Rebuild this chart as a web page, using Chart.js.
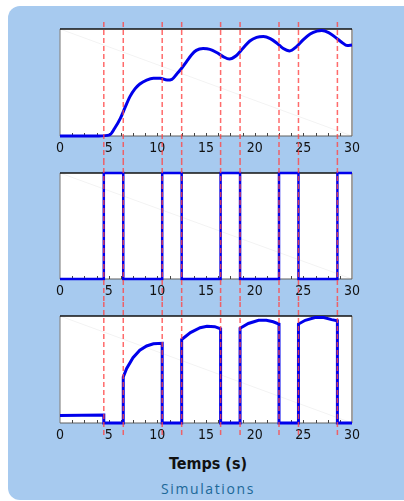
<!DOCTYPE html>
<html>
<head>
<meta charset="utf-8">
<script src="https://cdn.jsdelivr.net/npm/chart.js@4.4.1/dist/chart.umd.min.js"></script>
<style>
html, body { margin: 0; padding: 0; background: #fff; }
body { width: 404px; height: 501px; position: relative; overflow: hidden; }
#panel { position: absolute; left: 8px; top: 6px; width: 420px; height: 494px; background: #a7caef; border-radius: 12px; }
canvas { position: absolute; left: 0; }
#c1 { top: 20px; }
#c2 { top: 160px; }
#c3 { top: 302px; }
.lbl { position: absolute; left: 0; width: 416px; text-align: center; }
#xtitle { top: 454px; font: bold 16px "DejaVu Sans Condensed", "Liberation Sans Narrow", sans-serif; font-stretch: condensed; color: #111; }
#sub { top: 479px; font: 500 14px "Open Sans", sans-serif; letter-spacing: 1.6px; color: #1c6898; }
</style>
</head>
<body>
<div id="panel"></div>
<canvas id="c1" width="404" height="140"></canvas>
<canvas id="c2" width="404" height="142"></canvas>
<canvas id="c3" width="404" height="146"></canvas>
<div class="lbl" id="xtitle">Temps (s)</div>
<div class="lbl" id="sub">Simulations</div>
<script>
// switching instants (red dashed lines)
const switchTimes = [4.5, 6.5, 10.5, 12.5, 16.5, 18.5, 22.5, 24.5, 28.5];
const xTicks = [0, 5, 10, 15, 20, 25, 30];

// top plot: smooth response
const respT = [0, 2, 4, 5.1, 5.6, 6.2, 6.7, 7.2, 7.7, 8.2, 8.9, 9.6, 10.3, 11.0, 11.5, 12.0, 12.5, 13.0, 13.5, 14.0, 14.7, 15.4, 16.1, 16.8, 17.4, 18.1, 18.8, 19.5, 20.2, 20.9, 21.6, 22.3, 22.9, 23.6, 24.3, 25.0, 25.7, 26.4, 26.9, 27.6, 28.3, 29.0, 29.5, 30];
const respV = [0, 0, 0, 0.01, 0.07, 0.165, 0.27, 0.37, 0.44, 0.486, 0.523, 0.54, 0.54, 0.523, 0.53, 0.58, 0.633, 0.695, 0.757, 0.80, 0.817, 0.81, 0.78, 0.74, 0.72, 0.75, 0.82, 0.888, 0.922, 0.93, 0.91, 0.866, 0.82, 0.795, 0.835, 0.90, 0.953, 0.98, 0.985, 0.966, 0.922, 0.872, 0.845, 0.85];

// middle plot: on/off command
const cmdT = [0, 4.5, 4.5, 6.5, 6.5, 10.5, 10.5, 12.5, 12.5, 16.5, 16.5, 18.5, 18.5, 22.5, 22.5, 24.5, 24.5, 28.5, 28.5, 30];
const cmdV = [0, 0, 1, 1, 0, 0, 1, 1, 0, 0, 1, 1, 0, 0, 1, 1, 0, 0, 1, 1];

// bottom plot: gated signal
const gateT = [0, 4.5, 4.5, 6.5, 6.5, 6.85, 7.5, 8.2, 8.9, 9.6, 10.5, 10.5, 12.5, 12.5, 13.4, 14.4, 15.1, 15.9, 16.5, 16.5, 18.5, 18.5, 19.35, 20.4, 21.2, 21.9, 22.5, 22.5, 24.5, 24.5, 25.2, 26.2, 27.1, 27.9, 28.5, 28.5, 30];
const gateV = [0.07, 0.075, 0, 0, 0.43, 0.51, 0.61, 0.68, 0.72, 0.74, 0.745, 0, 0, 0.78, 0.845, 0.89, 0.905, 0.9, 0.88, 0, 0, 0.885, 0.93, 0.96, 0.96, 0.946, 0.925, 0, 0, 0.925, 0.96, 0.985, 0.985, 0.966, 0.955, 0, 0];

function pts(ts, vs) { return ts.map((t, i) => ({ x: t, y: vs[i] })); }

function framePlugin(lineTop, lineBottom) {
    return {
        id: 'frame',
        beforeDatasetsDraw(chart) {
            const { ctx, chartArea: a } = chart;
            ctx.save();
            ctx.fillStyle = '#fff';
            ctx.fillRect(a.left, a.top, a.right - a.left, a.bottom - a.top);
            // faint diagonal artefact
            ctx.strokeStyle = 'rgba(0,0,0,0.05)';
            ctx.lineWidth = 1;
            ctx.beginPath();
            ctx.moveTo(a.left, a.top);
            ctx.lineTo(a.right, a.bottom);
            ctx.stroke();
            // borders
            ctx.lineWidth = 2;
            ctx.strokeStyle = '#a0a0a0';
            ctx.beginPath();
            ctx.moveTo(a.right, a.top);
            ctx.lineTo(a.right, a.bottom);
            ctx.stroke();
            ctx.lineWidth = 1.2;
            ctx.strokeStyle = '#8a8a8a';
            ctx.beginPath();
            ctx.moveTo(a.left, a.top);
            ctx.lineTo(a.left, a.bottom);
            ctx.stroke();
            ctx.strokeStyle = '#606060';
            ctx.beginPath();
            ctx.moveTo(a.left, a.bottom);
            ctx.lineTo(a.right, a.bottom);
            ctx.stroke();
            ctx.lineWidth = 1.6;
            ctx.strokeStyle = '#111';
            ctx.beginPath();
            ctx.moveTo(a.left, a.top);
            ctx.lineTo(a.right, a.top);
            ctx.stroke();
            // minor ticks pointing inward
            const xs = chart.scales.x;
            ctx.lineWidth = 1;
            ctx.strokeStyle = '#444';
            xs.ticks.forEach(t => {
                if (t.value <= 0 || t.value >= 30) return;
                const px = Math.round(xs.getPixelForValue(t.value)) + 0.5;
                ctx.beginPath();
                ctx.moveTo(px, a.bottom);
                ctx.lineTo(px, a.bottom - 3);
                ctx.stroke();
            });
            ctx.restore();
        },
        afterDraw(chart) {
            const { ctx } = chart;
            const xs = chart.scales.x;
            ctx.save();
            ctx.strokeStyle = 'rgba(255,70,70,0.8)';
            ctx.lineWidth = 1.5;
            ctx.setLineDash([5, 3]);
            switchTimes.forEach(t => {
                const px = xs.getPixelForValue(t);
                ctx.beginPath();
                ctx.moveTo(px, lineTop);
                ctx.lineTo(px, lineBottom);
                ctx.stroke();
            });
            ctx.restore();
        }
    };
}

function makeChart(id, data, opts) {
    return new Chart(document.getElementById(id), {
        type: 'line',
        data: {
            datasets: [{
                data: data,
                borderColor: 'rgb(0,0,235)',
                borderWidth: opts.width,
                pointRadius: 0,
                fill: false,
                clip: false,
                cubicInterpolationMode: opts.smooth ? 'monotone' : 'default',
                tension: 0
            }]
        },
        options: {
            responsive: false,
            animation: false,
            events: [],
            layout: { padding: { left: 60, right: 52, top: opts.top, bottom: 0 } },
            plugins: { legend: { display: false }, tooltip: { enabled: false } },
            scales: {
                x: {
                    type: 'linear',
                    min: 0,
                    max: 30,
                    afterFit: s => { s.height = opts.axisH; },
                    grid: { display: false, drawTicks: false },
                    border: { display: false },
                    ticks: {
                        stepSize: 1.25,
                        autoSkip: false,
                        maxRotation: 0,
                        padding: 4,
                        color: '#111',
                        font: { family: '"DejaVu Sans Condensed", "DejaVu Sans", sans-serif', size: 14 },
                        callback: v => (xTicks.includes(v) ? String(v) : '')
                    }
                },
                y: { display: false, min: 0, max: 1 }
            }
        },
        plugins: [framePlugin(opts.lineTop, opts.lineBottom)]
    });
}

makeChart('c1', pts(respT, respV), { width: 3, smooth: true, top: 9, axisH: 24, lineTop: 2, lineBottom: 140 });
makeChart('c2', pts(cmdT, cmdV), { width: 2.5, smooth: false, top: 13, axisH: 23, lineTop: 0, lineBottom: 142 });
makeChart('c3', pts(gateT, gateV), { width: 3, smooth: false, top: 14, axisH: 25, lineTop: 0, lineBottom: 135 });
</script>
</body>
</html>
